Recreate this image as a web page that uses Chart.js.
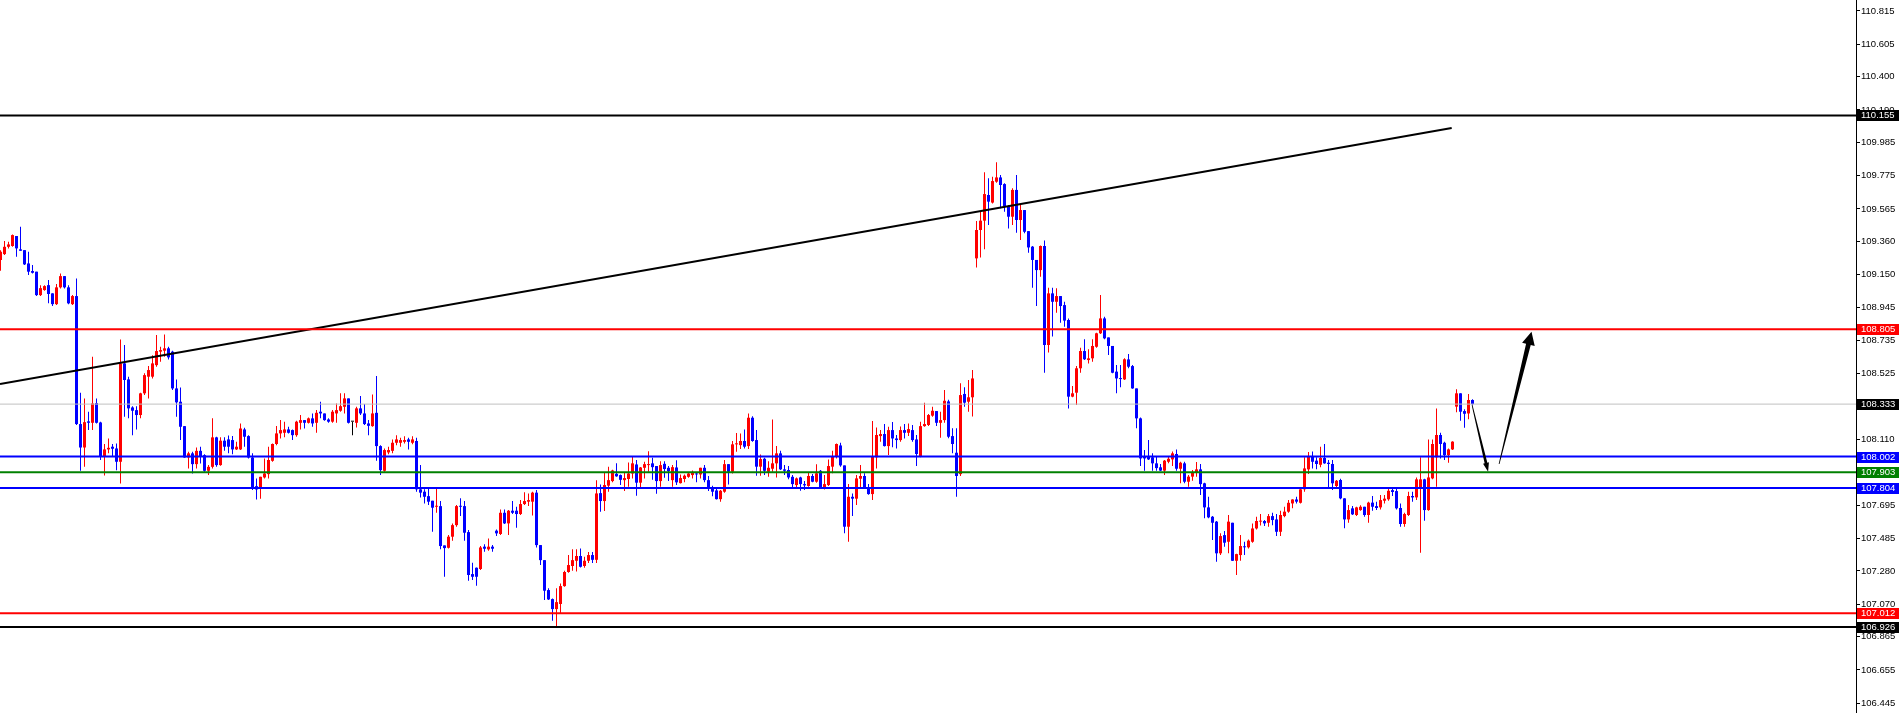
<!DOCTYPE html>
<html><head><meta charset="utf-8">
<script src="https://cdn.jsdelivr.net/npm/chart.js@4/dist/chart.umd.min.js"></script>
<style>html,body{margin:0;padding:0;background:#fff;overflow:hidden}#wrap{position:relative;width:1902px;height:713px}</style>
</head><body><div id="wrap"><canvas id="c" width="1902" height="713"></canvas></div>
<script>
// ---- DATA ----
const opens=[
109.242,109.280,109.326,109.331,109.394,109.310,109.305,109.221,109.173,109.169,
109.021,109.053,109.084,109.032,108.964,109.070,109.141,109.070,108.964,109.015,
108.207,108.059,108.224,108.215,108.339,108.217,108.005,108.047,108.064,108.053,
107.969,108.590,108.489,108.312,108.295,108.264,108.401,108.506,108.506,108.579,
108.664,108.670,108.685,108.664,108.432,108.348,108.194,107.996,108.022,107.954,
108.038,108.011,107.912,107.937,108.123,107.948,108.102,108.110,108.106,108.047,
108.047,108.173,108.131,107.996,107.815,107.801,107.870,107.891,107.975,108.081,
108.148,108.152,108.173,108.169,108.137,108.215,108.232,108.215,108.243,108.215,
108.285,108.274,108.236,108.222,108.274,108.291,108.316,108.369,108.222,108.215,
108.306,108.274,108.211,108.194,108.278,108.068,107.912,108.028,108.038,108.089,
108.089,108.095,108.110,108.089,108.100,107.795,107.780,107.752,107.723,107.685,
107.689,107.441,107.426,107.496,107.569,107.689,107.689,107.525,107.260,107.300,
107.292,107.433,107.416,107.433,107.534,107.513,107.647,107.580,107.660,107.660,
107.639,107.702,107.717,107.717,107.774,107.443,107.348,107.159,107.102,107.039,
107.071,107.184,107.273,107.311,107.344,107.374,107.311,107.344,107.380,107.350,
107.771,107.721,107.818,107.847,107.893,107.885,107.853,107.860,107.895,107.952,
107.837,107.931,107.948,107.959,107.942,107.847,107.956,107.931,107.853,107.933,
107.834,107.860,107.874,107.885,107.893,107.889,107.931,107.853,107.801,107.788,
107.733,107.780,107.954,107.906,108.079,108.074,108.100,108.068,108.247,108.106,
107.938,107.988,107.906,107.925,107.959,108.022,107.921,107.917,107.874,107.822,
107.870,107.828,107.816,107.879,107.843,107.912,107.807,107.822,107.938,108.001,
108.072,107.946,107.559,107.748,107.736,107.862,107.879,107.807,107.765,107.997,
108.131,108.144,108.068,108.169,108.116,108.106,108.169,108.152,108.169,108.110,
108.005,108.194,108.201,108.260,108.289,108.215,108.232,108.350,108.131,108.026,
107.891,108.397,108.348,108.376,109.253,109.432,109.491,109.653,109.605,109.737,
109.764,109.722,109.583,109.516,109.685,109.495,109.558,109.425,109.327,109.243,
109.179,109.331,108.706,109.032,108.979,109.015,108.958,108.864,108.380,108.405,
108.559,108.668,108.611,108.622,108.695,108.780,108.874,108.754,108.700,108.538,
108.495,108.489,108.615,108.573,108.432,108.243,108.005,108.001,107.997,107.959,
107.934,107.913,107.969,107.984,108.018,107.925,107.959,107.843,107.875,107.900,
107.921,107.833,107.681,107.622,107.591,107.391,107.506,107.464,107.584,107.344,
107.380,107.433,107.429,107.464,107.548,107.591,107.595,107.584,107.626,107.605,
107.527,107.626,107.654,107.706,107.731,107.710,107.795,107.921,108.005,107.976,
107.950,107.993,107.963,107.955,107.816,107.854,107.738,107.605,107.675,107.633,
107.664,107.685,107.633,107.711,107.689,107.681,107.723,107.732,107.790,107.784,
107.677,107.576,107.633,107.753,107.744,107.801,107.858,107.664,107.864,107.997,
108.138,108.089,108.011,108.047,108.317,108.401,108.289,108.274,108.359];
const highs=[
109.305,109.362,109.358,109.404,109.394,109.453,109.305,109.295,109.211,109.169,
109.084,109.084,109.116,109.032,109.091,109.158,109.141,109.084,109.021,109.126,
108.405,108.369,108.285,108.632,108.369,108.222,108.081,108.116,108.081,108.085,
108.741,108.706,108.506,108.320,108.320,108.405,108.527,108.573,108.642,108.769,
108.695,108.773,108.695,108.670,108.489,108.438,108.194,108.032,108.032,108.059,
108.064,108.017,107.948,108.243,108.127,108.123,108.123,108.135,108.131,108.095,
108.211,108.184,108.137,108.022,107.864,107.874,107.990,108.064,108.085,108.194,
108.232,108.222,108.190,108.173,108.228,108.264,108.232,108.249,108.274,108.295,
108.348,108.274,108.243,108.295,108.337,108.401,108.401,108.369,108.222,108.316,
108.384,108.333,108.232,108.394,108.510,108.074,108.053,108.064,108.110,108.137,
108.120,108.130,108.120,108.130,108.120,107.948,107.795,107.801,107.723,107.801,
107.721,107.441,107.506,107.580,107.696,107.738,107.721,107.538,107.332,107.302,
107.437,107.449,107.485,107.443,107.542,107.668,107.668,107.664,107.721,107.685,
107.727,107.776,107.769,107.780,107.790,107.443,107.348,107.170,107.106,107.170,
107.201,107.281,107.380,107.416,107.416,107.422,107.370,107.400,107.400,107.853,
107.826,107.902,107.938,107.919,107.959,107.889,107.902,107.965,107.999,107.980,
107.936,107.969,108.036,107.994,107.942,107.973,107.973,107.942,107.948,107.978,
107.889,107.889,107.902,107.914,107.902,107.931,107.948,107.879,107.818,107.801,
107.790,107.980,107.954,108.100,108.150,108.148,108.173,108.274,108.257,108.169,
108.015,107.994,107.973,108.236,108.068,108.039,107.948,107.942,107.885,107.870,
107.874,107.847,107.900,107.891,107.954,107.917,107.885,107.984,108.039,108.085,
108.089,107.946,107.828,107.769,107.885,107.948,107.896,107.828,108.226,108.186,
108.169,108.207,108.190,108.220,108.138,108.192,108.207,108.211,108.201,108.138,
108.222,108.342,108.270,108.316,108.289,108.285,108.422,108.360,108.180,108.180,
108.464,108.439,108.485,108.548,109.489,109.548,109.796,109.758,109.769,109.859,
109.779,109.727,109.590,109.695,109.779,109.590,109.558,109.425,109.331,109.243,
109.335,109.365,109.068,109.068,109.064,109.015,108.979,108.874,108.447,108.573,
108.689,108.742,108.679,108.742,108.784,109.022,108.885,108.754,108.700,108.580,
108.580,108.622,108.649,108.580,108.432,108.249,108.043,108.106,108.022,108.001,
107.955,107.980,108.001,108.033,108.047,107.969,107.969,107.885,107.917,107.967,
107.955,107.837,107.748,107.626,107.595,107.517,107.532,107.633,107.584,107.388,
107.506,107.464,107.479,107.580,107.622,107.639,107.601,107.639,107.647,107.639,
107.660,107.685,107.727,107.733,107.748,107.801,107.997,108.030,108.033,107.997,
108.064,108.081,107.980,107.980,107.854,107.862,107.738,107.696,107.689,107.685,
107.694,107.685,107.717,107.753,107.717,107.759,107.759,107.801,107.801,107.801,
107.706,107.647,107.780,107.780,107.870,107.997,107.862,108.110,108.110,108.306,
108.152,108.095,108.053,108.098,108.426,108.401,108.300,108.397,108.363];
const lows=[
109.175,109.274,109.316,109.326,109.263,109.301,109.211,109.148,109.158,109.015,
109.015,109.049,108.969,108.952,108.958,109.063,109.063,108.964,108.958,108.201,
107.912,107.937,108.169,108.169,108.211,107.980,107.883,108.022,108.001,107.916,
107.832,108.253,108.243,108.137,108.173,108.243,108.390,108.369,108.495,108.569,
108.600,108.632,108.615,108.422,108.253,108.106,107.994,107.927,107.895,107.927,
107.958,107.906,107.885,107.927,107.937,107.944,108.038,108.022,108.017,108.043,
108.043,108.064,107.990,107.790,107.731,107.735,107.864,107.864,107.969,108.074,
108.116,108.123,108.148,108.106,108.127,108.173,108.179,108.211,108.190,108.152,
108.243,108.228,108.215,108.215,108.215,108.285,108.274,108.211,108.137,108.186,
108.264,108.201,108.137,108.190,107.975,107.885,107.906,108.017,108.022,108.074,
108.064,108.085,108.047,108.080,107.780,107.744,107.706,107.696,107.527,107.647,
107.416,107.243,107.422,107.470,107.559,107.626,107.470,107.218,107.222,107.186,
107.285,107.401,107.407,107.401,107.500,107.506,107.576,107.506,107.639,107.553,
107.633,107.696,107.689,107.630,107.428,107.317,107.096,107.096,106.965,106.928,
107.012,107.180,107.268,107.281,107.277,107.302,107.300,107.330,107.330,107.330,
107.653,107.658,107.780,107.839,107.874,107.822,107.784,107.811,107.864,107.754,
107.805,107.864,107.906,107.855,107.767,107.811,107.868,107.847,107.811,107.822,
107.832,107.839,107.868,107.864,107.839,107.864,107.839,107.784,107.752,107.730,
107.717,107.773,107.826,107.895,108.032,108.049,108.053,108.049,108.095,107.881,
107.881,107.885,107.874,107.906,107.870,107.917,107.885,107.858,107.807,107.807,
107.786,107.790,107.811,107.839,107.837,107.803,107.794,107.816,107.896,107.990,
107.938,107.517,107.464,107.626,107.696,107.805,107.801,107.761,107.727,107.927,
108.095,108.066,108.011,108.060,108.053,108.095,108.116,108.131,108.095,107.942,
107.997,108.190,108.194,108.253,108.194,108.121,108.215,108.117,108.022,107.748,
107.879,108.317,108.285,108.254,109.196,109.259,109.310,109.464,109.600,109.731,
109.569,109.548,109.442,109.464,109.415,109.369,109.411,109.289,109.068,108.952,
109.137,108.531,108.658,108.759,108.910,108.847,108.822,108.306,108.376,108.327,
108.531,108.611,108.590,108.601,108.689,108.776,108.742,108.643,108.527,108.401,
108.439,108.485,108.559,108.430,108.180,107.942,107.913,107.980,107.913,107.913,
107.911,107.885,107.959,107.942,107.913,107.833,107.833,107.812,107.849,107.875,
107.759,107.612,107.612,107.475,107.338,107.380,107.433,107.391,107.342,107.254,
107.344,107.380,107.422,107.458,107.542,107.567,107.563,107.559,107.569,107.500,
107.500,107.618,107.647,107.675,107.706,107.706,107.780,107.891,107.927,107.921,
107.934,107.957,107.801,107.791,107.801,107.732,107.549,107.584,107.633,107.626,
107.660,107.622,107.584,107.660,107.664,107.668,107.706,107.723,107.753,107.668,
107.559,107.559,107.626,107.717,107.727,107.395,107.597,107.660,107.858,107.812,
107.990,107.980,107.963,108.043,108.281,108.228,108.184,108.237,108.325];
const closes=[
109.295,109.326,109.341,109.400,109.316,109.301,109.215,109.169,109.162,109.021,
109.065,109.078,109.028,108.964,109.070,109.141,109.070,108.969,109.015,108.207,
108.059,108.219,108.215,108.337,108.215,108.005,108.047,108.057,108.051,107.969,
108.590,108.485,108.306,108.291,108.264,108.401,108.516,108.548,108.590,108.668,
108.674,108.685,108.628,108.432,108.344,108.190,107.996,108.022,107.954,108.038,
108.001,107.912,107.937,108.123,107.948,108.102,108.064,108.064,108.047,108.064,
108.179,108.127,107.996,107.807,107.794,107.874,107.895,107.980,108.081,108.148,
108.169,108.173,108.152,108.137,108.222,108.232,108.215,108.243,108.211,108.278,
108.274,108.232,108.222,108.285,108.295,108.320,108.369,108.215,108.222,108.306,
108.274,108.207,108.196,108.274,108.068,107.916,108.043,108.043,108.089,108.110,
108.106,108.106,108.095,108.110,107.795,107.774,107.748,107.717,107.679,107.689,
107.437,107.424,107.496,107.569,107.689,107.685,107.521,107.254,107.243,107.243,
107.428,107.420,107.433,107.420,107.517,107.647,107.580,107.660,107.647,107.639,
107.702,107.721,107.727,107.774,107.443,107.348,107.155,107.100,107.039,107.083,
107.184,107.273,107.317,107.348,107.374,107.306,107.344,107.380,107.350,107.769,
107.721,107.822,107.853,107.914,107.877,107.855,107.866,107.895,107.959,107.837,
107.933,107.954,107.954,107.935,107.847,107.948,107.923,107.910,107.935,107.839,
107.866,107.881,107.895,107.902,107.889,107.931,107.853,107.807,107.780,107.733,
107.786,107.954,107.906,108.079,108.081,108.100,108.064,108.247,108.100,107.938,
107.986,107.912,107.931,107.959,108.022,107.921,107.912,107.870,107.828,107.864,
107.828,107.820,107.879,107.843,107.896,107.807,107.828,107.942,108.001,108.081,
107.946,107.559,107.748,107.736,107.864,107.879,107.807,107.765,108.001,108.138,
108.144,108.068,108.169,108.116,108.106,108.169,108.152,108.175,108.106,108.018,
108.194,108.207,108.264,108.291,108.215,108.232,108.354,108.127,108.081,107.879,
108.390,108.342,108.376,108.495,109.432,109.491,109.659,109.611,109.741,109.764,
109.716,109.583,109.516,109.685,109.495,109.558,109.421,109.322,109.243,109.179,
109.331,108.706,109.032,108.979,109.015,108.952,108.860,108.380,108.401,108.559,
108.668,108.616,108.622,108.700,108.780,108.874,108.748,108.700,108.531,108.495,
108.491,108.616,108.569,108.432,108.243,107.990,107.990,107.984,107.959,107.929,
107.913,107.976,107.988,108.022,107.925,107.963,107.843,107.875,107.900,107.921,
107.828,107.681,107.618,107.584,107.391,107.500,107.458,107.591,107.344,107.386,
107.437,107.429,107.471,107.548,107.595,107.597,107.580,107.626,107.601,107.527,
107.633,107.654,107.710,107.731,107.717,107.795,107.927,108.001,107.969,107.955,
107.993,107.959,107.955,107.833,107.849,107.738,107.605,107.664,107.637,107.681,
107.685,107.633,107.711,107.685,107.677,107.727,107.736,107.786,107.778,107.675,
107.576,107.639,107.753,107.744,107.858,107.858,107.664,107.870,108.081,108.138,
108.081,108.011,108.047,108.096,108.401,108.285,108.272,108.359,108.333];

// horizontal price levels (value labels shown on the right axis)
const levelValues=[110.155,108.805,108.333,108.002,107.903,107.804,107.012,106.926];
// y axis tick labels
const yTickValues=[110.815,110.605,110.400,110.190,109.985,109.775,109.565,109.360,109.150,108.945,108.735,108.525,108.320,108.110,107.900,107.695,107.485,107.280,107.070,106.865,106.655,106.445];
// trend line: [bar index, price]
const trendStart=[0.875,108.460];
const trendEnd=[363.8,110.076];
// arrows: [bar index, price] from -> to
const arrowSmallFrom=[368.9,108.327], arrowSmallTo=[372.9,107.906];
const arrowBigFrom=[375.65,107.955], arrowBigTo=[383.75,108.790];
// axis range (bars / price)
const xRange=[0.875,464.875];
const yRange=[106.383,110.884];

// ---- STYLES ----
const UP='#ff0000', DOWN='#0000ff', FLAT='#000000';
const levelColors=['#000000','#ff0000','#c0c0c0','#0000ff','#008000','#0000ff','#ff0000','#000000'];
const levelWidths=[2,2,1,2,2,2,2,2];
const levelLabelBg=['#000000','#ff0000','#000000','#0000ff','#008000','#0000ff','#ff0000','#000000'];
const FONT_FAMILY='"Liberation Sans", Arial, sans-serif';
const FONT_SIZE=9.5;

const idx=opens.map((_,k)=>k+1);
const candleColor=idx.map((_,k)=>closes[k]>opens[k]?UP:(closes[k]<opens[k]?DOWN:FLAT));

const datasets=[];
levelValues.forEach((v,k)=>{
  datasets.push({type:'line',data:[{x:xRange[0],y:v},{x:xRange[1],y:v}],borderColor:levelColors[k],borderWidth:levelWidths[k],pointRadius:0,order:0,tension:0});
});
datasets.push({type:'line',data:[{x:trendStart[0],y:trendStart[1]},{x:trendEnd[0],y:trendEnd[1]}],borderColor:'#000',borderWidth:2,pointRadius:0,order:0});
datasets.push({type:'bar',data:idx.map((i,k)=>({x:i,y:[lows[k],highs[k]]})),backgroundColor:candleColor,barThickness:1,grouped:false,order:3,inflateAmount:0,borderWidth:0,minBarLength:1});
datasets.push({type:'bar',data:idx.map((i,k)=>({x:i,y:[opens[k],closes[k]]})),backgroundColor:candleColor,barThickness:3,grouped:false,order:2,inflateAmount:0,borderWidth:0,minBarLength:1});

function drawArrow(ctx,chart,from,to,w0,w1,hw,hl){
  const xs=chart.scales.x, ys=chart.scales.y;
  const x0=xs.getPixelForValue(from[0]), y0=ys.getPixelForValue(from[1]);
  const x1=xs.getPixelForValue(to[0]), y1=ys.getPixelForValue(to[1]);
  const dx=x1-x0, dy=y1-y0, L=Math.hypot(dx,dy); const ux=dx/L, uy=dy/L; const nx=-uy, ny=ux;
  const bx=x1-ux*hl, by=y1-uy*hl;
  ctx.save(); ctx.fillStyle='#000'; ctx.beginPath();
  ctx.moveTo(x0+nx*w0,y0+ny*w0);
  ctx.lineTo(bx+nx*w1,by+ny*w1);
  ctx.lineTo(bx+nx*hw,by+ny*hw);
  ctx.lineTo(x1,y1);
  ctx.lineTo(bx-nx*hw,by-ny*hw);
  ctx.lineTo(bx-nx*w1,by-ny*w1);
  ctx.lineTo(x0-nx*w0,y0-ny*w0);
  ctx.closePath(); ctx.fill(); ctx.restore();
}

const overlay={id:'overlay',
  afterDatasetsDraw(chart){
    const ctx=chart.ctx;
    drawArrow(ctx,chart,arrowSmallFrom,arrowSmallTo,0.4,1.4,3,9);
    drawArrow(ctx,chart,arrowBigFrom,arrowBigTo,0.4,2.4,6.5,13);
  },
  afterDraw(chart){
    const ctx=chart.ctx, ys=chart.scales.y, right=chart.chartArea.right;
    ctx.save(); ctx.font=FONT_SIZE+'px '+FONT_FAMILY; ctx.textBaseline='middle'; ctx.textAlign='left';
    levelValues.forEach((v,k)=>{
      const py=Math.round(ys.getPixelForValue(v));
      ctx.fillStyle=levelLabelBg[k]; ctx.fillRect(right+1,py-5,42,11);
      ctx.fillStyle='#ffffff'; ctx.fillText(v.toFixed(3),right+5,py+0.5);
    });
    ctx.restore();
  }
};

new Chart(document.getElementById('c'),{
  type:'bar',
  data:{datasets},
  options:{
    responsive:false,animation:false,devicePixelRatio:1,
    layout:{padding:0},
    plugins:{legend:{display:false},tooltip:{enabled:false}},
    scales:{
      x:{type:'linear',min:xRange[0],max:xRange[1],display:false,offset:false,grid:{display:false}},
      y:{type:'linear',position:'right',min:yRange[0],max:yRange[1],
        afterFit(s){s.width=46;s.paddingTop=0;s.paddingBottom=0;},
        afterBuildTicks(s){s.ticks=yTickValues.map(v=>({value:v}));},
        grid:{drawOnChartArea:false,drawTicks:true,tickLength:4,tickColor:'#000',color:'#000'},
        border:{display:true,color:'#000',width:1},
        ticks:{autoSkip:false,padding:1,color:'#000',font:{family:FONT_FAMILY,size:FONT_SIZE},callback:(v)=>Number(v).toFixed(3)}
      }
    }
  },
  plugins:[overlay]
});
</script></body></html>
